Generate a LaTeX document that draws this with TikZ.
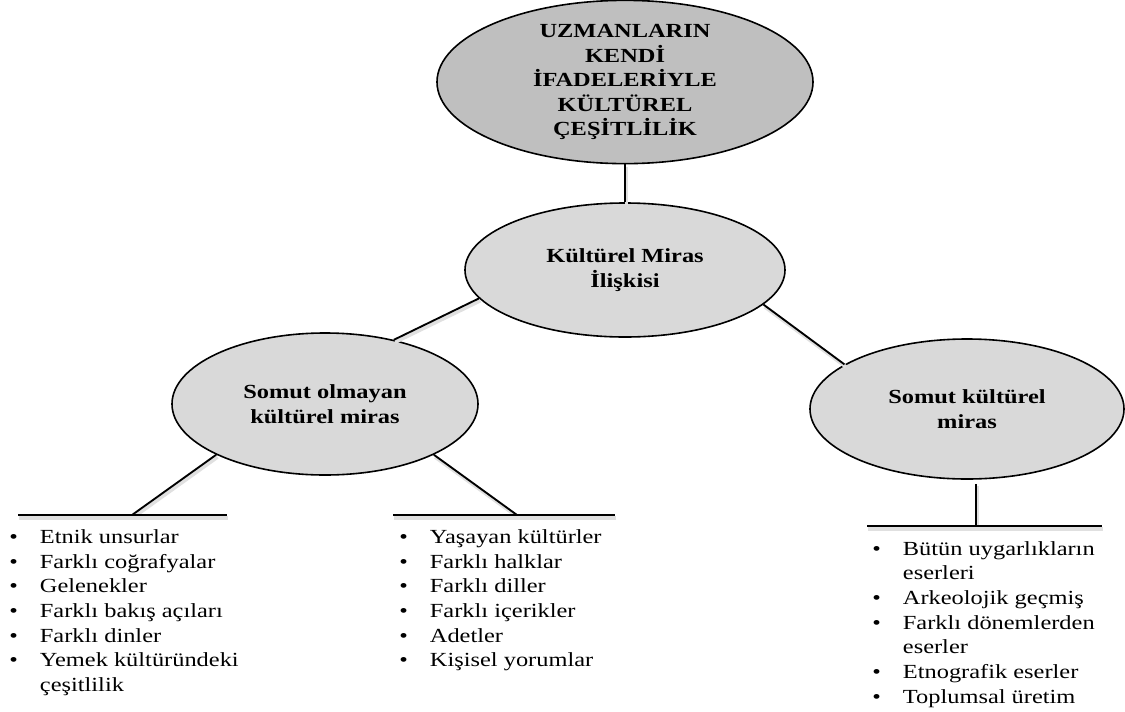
\documentclass[tikz,border=0pt]{standalone}
\usepackage{fontspec}
\setmainfont{Liberation Serif}[FakeStretch=1.22]
\usetikzlibrary{shapes.geometric}
\newcommand{\bitem}[1]{\makebox[23pt][l]{•}#1}
\newcommand{\bcont}[1]{\hspace*{23pt}#1}
\tikzset{
  bubble/.style={ellipse, draw=black, line width=1.2pt, fill=black!15, inner sep=0pt,
    align=center, font=\fontsize{15}{18.4}\selectfont\bfseries},
  topbubble/.style={bubble, fill=black!25},
  conn/.style={draw=black, line width=1.4pt,
    preaction={draw=black!12, line width=2.6pt, transform canvas={shift={(1pt,-1.8pt)}}}},
  bar/.style={draw=black, line width=1.8pt,
    preaction={draw=black!12, line width=3pt, transform canvas={shift={(1pt,-2.2pt)}}}},
  listtext/.style={anchor=north west, inner sep=0pt, align=left,
    font=\fontsize{15}{18.5}\selectfont}
}
\begin{document}
\begin{tikzpicture}[x=0.75pt, y=-0.75pt]
\useasboundingbox (0,0) rectangle (1125,711);
\fill[white] (0,0) rectangle (1125,711);

% ellipses
\node[topbubble, minimum width=282pt, minimum height=121.5pt] (top) at (625,82)
  {UZMANLARIN\\KENDİ\\İFADELERİYLE\\KÜLTÜREL\\ÇEŞİTLİLİK};
\node[bubble, minimum width=240pt, minimum height=100.5pt] (mid) at (625,270)
  {Kültürel Miras\\İlişkisi};
\node[bubble, minimum width=229.5pt, minimum height=106.5pt] (left) at (325,404)
  {Somut olmayan\\kültürel miras};
\node[bubble, minimum width=235.5pt, minimum height=105pt] (right) at (967,409)
  {Somut kültürel\\miras};

% bar coordinates
\coordinate (lb1) at (18,515);
\coordinate (lb2) at (227,515);
\coordinate (lj) at (132,515);
\coordinate (mb1) at (393,515);
\coordinate (mb2) at (615,515);
\coordinate (mj) at (517,515);
\coordinate (rb1) at (867,526);
\coordinate (rb2) at (1102,526);
\coordinate (rj) at (976,526);

% connectors
\path[conn] (top.south) -- (mid.north);
\path[conn] (mid.191) -- (left.43);
\path[conn] (mid.346) -- (right.160);
\path[conn] (left.205) -- (lj);
\path[conn] (left.335) -- (mj);
\path[conn, shorten <=3pt] (right.south -| rj) -- (rj);

% bars
\path[bar] (lb1) -- (lb2);
\path[bar] (mb1) -- (mb2);
\path[bar] (rb1) -- (rb2);

% lists
\node[listtext] (llist) at (9,529.5) {%
\bitem{Etnik unsurlar}\\
\bitem{Farklı coğrafyalar}\\
\bitem{Gelenekler}\\
\bitem{Farklı bakış açıları}\\
\bitem{Farklı dinler}\\
\bitem{Yemek kültüründeki}\\
\bcont{çeşitlilik}};

\node[listtext] (mlist) at (399,529.5) {%
\bitem{Yaşayan kültürler}\\
\bitem{Farklı halklar}\\
\bitem{Farklı diller}\\
\bitem{Farklı içerikler}\\
\bitem{Adetler}\\
\bitem{Kişisel yorumlar}};

\node[listtext] (rlist) at (872,541) {%
\bitem{Bütün uygarlıkların}\\
\bcont{eserleri}\\
\bitem{Arkeolojik geçmiş}\\
\bitem{Farklı dönemlerden}\\
\bcont{eserler}\\
\bitem{Etnografik eserler}\\
\bitem{Toplumsal üretim}};
\end{tikzpicture}
\end{document}
